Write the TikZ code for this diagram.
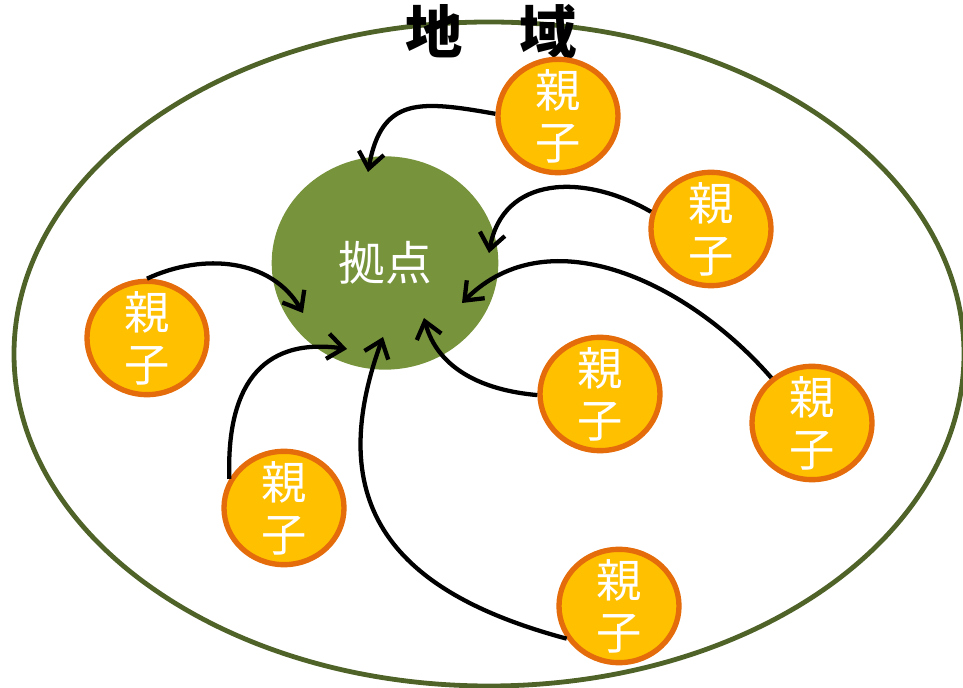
\documentclass[tikz,border=0pt]{standalone}
\usepackage{fontspec}
\setmainfont{Noto Sans CJK JP}
\usetikzlibrary{positioning, arrows.meta, shapes.geometric}

\definecolor{regionline}{RGB}{79,98,40}
\definecolor{hubgreen}{RGB}{119,147,60}
\definecolor{famfill}{RGB}{255,192,0}
\definecolor{famline}{RGB}{228,108,10}

\begin{document}
\begin{tikzpicture}[
  x=0.75pt, y=0.75pt,
  every node/.style={align=center, inner sep=0pt},
  famtext/.style={text=white, font=\fontsize{34pt}{39pt}\selectfont},
  family/.style={ellipse, draw=famline, fill=famfill, line width=4pt, minimum width=90pt, minimum height=85pt,
    label={[famtext]center:親\\子}},
  hub/.style={ellipse, fill=hubgreen, minimum width=170pt, minimum height=160pt, text=white, font=\fontsize{35pt}{40pt}\selectfont},
  arrow/.style={-{Straight Barb[length=12pt,width=19pt]}, line width=3.2pt}
]
\useasboundingbox (0,0) rectangle (963,688);

\draw[regionline, line width=3.6pt] (489,334) ellipse [x radius=475, y radius=332];
\node[font=\fontsize{43pt}{48pt}\selectfont\bfseries] (chiiki) at (491,656) {地　域};

\node[hub] (kyoten) at (385,425) {拠点};

\node[family] (oyako1) at (558,572) {};
\node[family] (oyako2) at (711,459) {};
\node[family] (oyako3) at (147,350) {};
\node[family] (oyako4) at (600,294) {};
\node[family] (oyako5) at (812,265) {};
\node[family] (oyako6) at (284,180) {};
\node[family] (oyako7) at (619,82) {};

% arrow tips inside the hub
\coordinate (tip1) at (368,516);
\coordinate (tip2) at (489,435);
\coordinate (tip3) at (462,385);
\coordinate (tip4) at (424,370);
\coordinate (tip5) at (303,375);
\coordinate (tip6) at (347,339);
\coordinate (tip7) at (383,351);

\draw[arrow] (oyako1.178) to[out=170, in=80, looseness=1.4] (tip1);
\draw[arrow] (oyako2.164) to[out=150, in=80, looseness=1.2] (tip2);
\draw[arrow] (oyako5.132) to[out=131, in=45] (tip3);
\draw[arrow] (oyako4.181) to[out=175, in=-75] (tip4);
\draw[arrow] (oyako3.90) to[out=25, in=120] (tip5);
\draw[arrow] (oyako6.152) to[out=92, in=172, looseness=1.3] (tip6);
\draw[arrow] (oyako7.212) to[out=165, in=-110, looseness=1.3] (tip7);
\end{tikzpicture}
\end{document}
